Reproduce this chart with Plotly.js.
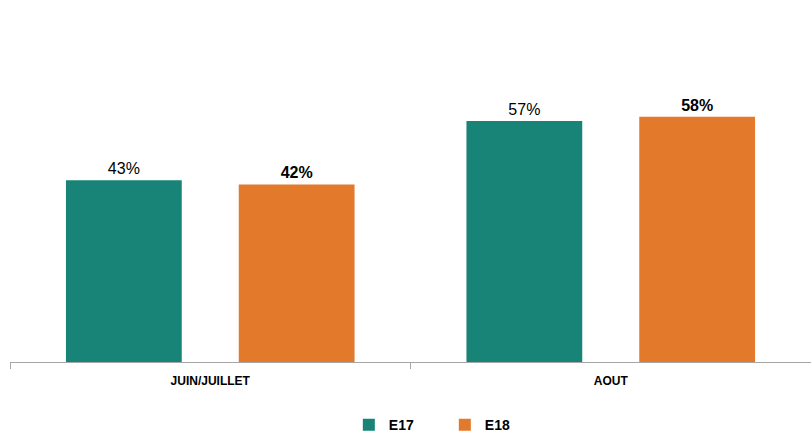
<!DOCTYPE html>
<html>
<head>
<meta charset="utf-8">
<script src="https://cdn.plot.ly/plotly-3.0.1.min.js"></script>
<style>html,body{margin:0;padding:0;background:#fff;}#chart{width:811px;height:432px;}</style>
</head>
<body>
<div id="chart"></div>
<script>
const categories = ["JUIN/JUILLET", "AOUT"];
const seriesNames = ["E17", "E18"];
const e17Values = [43, 57];
const e18Values = [42, 58];

const teal = "#188377";
const orange = "#E3792B";
const font = "Liberation Sans Narrow, Arial Narrow, Liberation Sans, sans-serif";

const traces = [
  {
    type: "bar", name: seriesNames[0], x: categories, y: e17Values,
    marker: {color: teal},
    texttemplate: "%{y}%", textposition: "outside", cliponaxis: false,
    textfont: {family: "Liberation Sans, sans-serif", size: 16, color: "#000"},
    hoverinfo: "skip"
  },
  {
    type: "bar", name: seriesNames[1], x: categories, y: e18Values,
    marker: {color: orange},
    texttemplate: "<b>%{y}%</b>", textposition: "outside", cliponaxis: false,
    textfont: {family: "Liberation Sans, sans-serif", size: 16, color: "#000"},
    hoverinfo: "skip"
  }
];

const layout = {
  width: 811, height: 432,
  margin: {l: 10, r: 0, t: 66, b: 70, autoexpand: false},
  paper_bgcolor: "#fff", plot_bgcolor: "#fff",
  barmode: "group", bargap: 0.137, bargroupgap: 0.33,
  showlegend: true,
  legend: {orientation: "h", x: 0.423, xanchor: "left", yref: "container", y: 0.016, yanchor: "middle",
    font: {family: font, size: 14, color: "#000", weight: "bold"}, itemwidth: 30, entrywidth: 51, tracegroupgap: 0},
  xaxis: {
    showline: true, linecolor: "#a6a6a6", linewidth: 1,
    ticks: "outside", tickson: "boundaries", ticklen: 6, tickcolor: "#a6a6a6",
    ticklabelstandoff: 8,
    tickfont: {family: font, size: 12, color: "#000", weight: "bold"},
    fixedrange: true
  },
  yaxis: {range: [0, 70], visible: false, showgrid: false, zeroline: false, fixedrange: true},
  font: {family: font}
};

Plotly.newPlot("chart", traces, layout, {displayModeBar: false, staticPlot: true});
</script>
</body>
</html>
